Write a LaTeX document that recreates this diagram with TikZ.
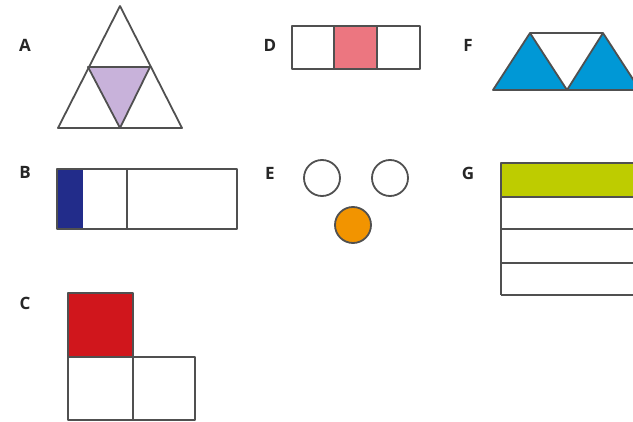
\documentclass[tikz,border=0pt]{standalone}
\usepackage{fontspec}
\setsansfont{Open Sans}
\definecolor{lilac}{RGB}{200,178,218}
\definecolor{rose}{RGB}{236,118,128}
\definecolor{skyblue}{RGB}{0,152,214}
\definecolor{navy}{RGB}{34,44,138}
\definecolor{amber}{RGB}{242,148,0}
\definecolor{lime}{RGB}{190,204,0}
\definecolor{brick}{RGB}{208,22,28}
\definecolor{edge}{RGB}{80,80,80}
\tikzset{
  outline/.style={draw=edge,line width=1.8pt,line join=round},
  tag/.style={font=\sffamily\bfseries\fontsize{17}{17}\selectfont,text=black!85,inner sep=0pt}
}

\begin{document}
\begin{tikzpicture}[x=1pt,y=-1pt]
  \useasboundingbox (0,0) rectangle (633,422);
  \clip (0,0) rectangle (633,422);
  % labels
  \node[tag] (labA) at (25,45) {A};
  \node[tag] (labB) at (25,172) {B};
  \node[tag] (labC) at (25,303) {C};
  \node[tag] (labD) at (270,45) {D};
  \node[tag] (labE) at (270,173) {E};
  \node[tag] (labF) at (468,45) {F};
  \node[tag] (labG) at (468,173) {G};
  % A: triangle cut into four, middle one shaded
  \filldraw[outline,fill=lilac] (88,67)--(150,67)--(120,128)--cycle;
  \draw[outline] (58,128)--(120,6)--(182,128)--cycle;
  % B: bar with one small part shaded
  \fill[navy] (57,169) rectangle (83,229);
  \draw[outline] (57,169) rectangle (237,229);
  \draw[outline] (127,169)--(127,229);
  % C: three squares, top one red
  \filldraw[outline,fill=brick] (68,293) rectangle (133,357);
  \draw[outline] (68,357) rectangle (133,420);
  \draw[outline] (133,357) rectangle (195,420);
  % D: three cells, middle one pink
  \fill[rose] (334,26) rectangle (377,69);
  \draw[outline] (292,26) rectangle (420,69);
  \draw[outline] (334,26)--(334,69) (377,26)--(377,69);
  % E: three counters
  \draw[outline] (322,178) circle (18);
  \draw[outline] (390,178) circle (18);
  \filldraw[outline,fill=amber] (353,225) circle (18);
  % F: two blue triangles
  \draw[outline] (530,33)--(603,33);
  \filldraw[outline,fill=skyblue] (493,90)--(530,33)--(567,90)--cycle;
  \filldraw[outline,fill=skyblue] (567,90)--(603,33)--(640,90)--cycle;
  % G: strips, top one green
  \filldraw[outline,fill=lime] (501,163) rectangle (645,197);
  \foreach \yy in {229,263,295}
    \draw[outline] (501,\yy)--(645,\yy);
  \draw[outline] (501,163)--(501,295);
\end{tikzpicture}
\end{document}
